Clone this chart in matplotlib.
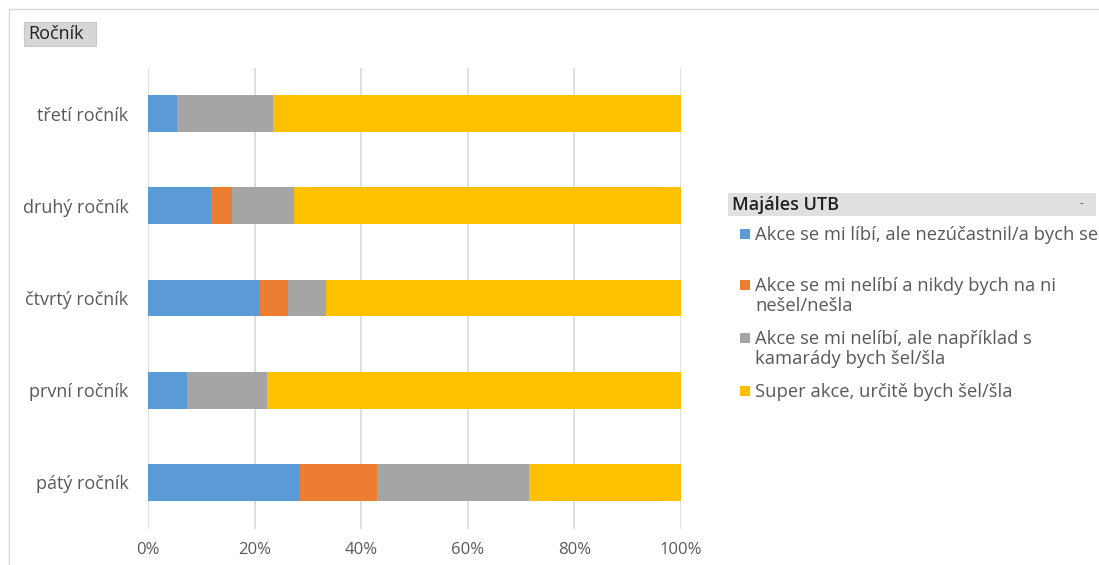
import matplotlib
matplotlib.use("Agg")
import matplotlib.pyplot as plt
from matplotlib.patches import Rectangle
from matplotlib.lines import Line2D
import numpy as np

plt.rcParams['font.family'] = ['Open Sans', 'DejaVu Sans']

categories = ["pátý ročník", "první ročník", "čtvrtý ročník", "druhý ročník", "třetí ročník"]
series_names = [
    "Akce se mi líbí, ale nezúčastnil/a bych se",
    "Akce se mi nelíbí a nikdy bych na ni\nnešel/nešla",
    "Akce se mi nelíbí, ale například s\nkamarády bych šel/šla",
    "Super akce, určitě bych šel/šla",
]
blue = [28.6, 7.4, 21.0, 11.8, 5.4]
orange = [14.3, 0.0, 5.2, 3.9, 0.0]
gray = [28.6, 15.0, 7.2, 11.6, 18.1]
yellow = [28.5, 77.6, 66.6, 72.7, 76.5]
xticks = [0, 20, 40, 60, 80, 100]
xticklabels = ["0%", "20%", "40%", "60%", "80%", "100%"]
colors = ["#5B9BD5", "#ED7D31", "#A5A5A5", "#FFC000"]

W, H = 1099, 565
fig = plt.figure(figsize=(W / 100, H / 100), dpi=100)
ax = fig.add_axes([148 / W, 1 - 528.5 / H, (681 - 148) / W, (528.5 - 67.5) / H])

y = np.arange(len(categories))
left = np.zeros(len(categories))
for vals, c, name in zip([blue, orange, gray, yellow], colors, series_names):
    v = np.array(vals)
    ax.barh(y, v, left=left, height=0.4, color=c, zorder=3, label=name)
    left += v

ax.set_xlim(0, 100)
ax.set_ylim(-0.5, 4.5)
ax.set_xticks(xticks)
ax.set_xticklabels(xticklabels)
ax.set_yticks(y)
ax.set_yticklabels(categories)
ax.tick_params(axis='both', length=0, labelcolor="#595959")
ax.tick_params(axis='x', pad=10, labelsize=12)
ax.tick_params(axis='y', pad=14, labelsize=13)
ax.grid(axis='x', color="#D9D9D9", linewidth=1.2, zorder=0)
for s in ax.spines.values():
    s.set_visible(False)

# outer frame lines
fig.add_artist(Line2D([9 / W, 1], [1 - 9 / H, 1 - 9 / H], color="#D9D9D9", lw=1))
fig.add_artist(Line2D([9 / W, 9 / W], [0, 1 - 9 / H], color="#D9D9D9", lw=1))

# "Ročník" button
fig.add_artist(Rectangle((24 / W, 1 - 46 / H), 72 / W, 24 / H, facecolor="#D6D6D6",
                         edgecolor="#C8C8C8", lw=0.8))
fig.text(28 / W, 1 - 34 / H, "Ročník", fontsize=13, color="#202020", va="center", ha="left")

# legend header
fig.add_artist(Rectangle((728 / W, 1 - 216 / H), 368 / W, 23 / H, facecolor="#E0E0E0",
                         edgecolor="none"))
fig.text(732 / W, 1 - 205 / H, "Majáles UTB", fontsize=13, fontweight="semibold",
         color="#202020", va="center", ha="left")
fig.text(1080 / W, 1 - 204 / H, "-", fontsize=8, color="#404040", va="center", ha="left")

# legend entries
entry_y = [234, 285, 338, 391]
for ey, c, name in zip(entry_y, colors, series_names):
    fig.add_artist(Rectangle((740 / W, 1 - (ey + 5) / H), 10 / W, 10 / H, facecolor=c, edgecolor="none"))
    fig.text(755 / W, 1 - (ey - 8) / H, name, fontsize=13.2, color="#595959", va="top", ha="left",
             linespacing=1.12)

fig.savefig("out.png", dpi=100)
